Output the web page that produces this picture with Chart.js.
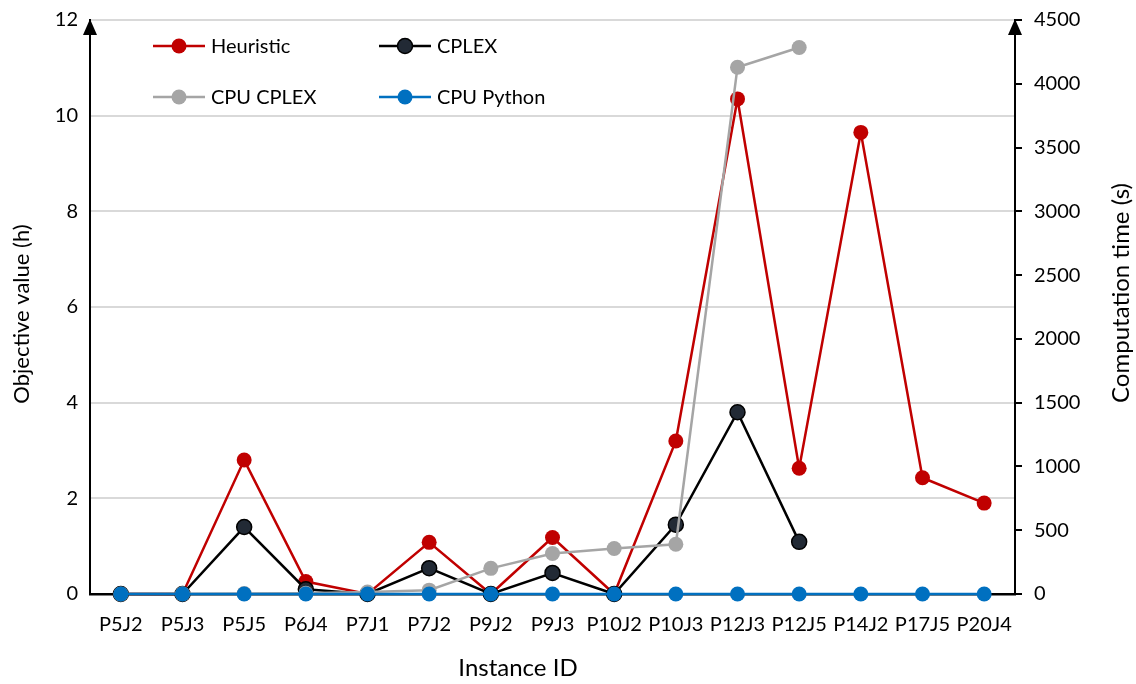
<!DOCTYPE html>
<html>
<head>
<meta charset="utf-8">
<script src="https://cdn.jsdelivr.net/npm/chart.js@4/dist/chart.umd.min.js"></script>
<style>
  body { margin: 0; background: #fff; }
  #wrap { width: 1136px; height: 684px; }
</style>
</head>
<body>
<div id="wrap"><canvas id="objChart" width="1136" height="684"></canvas></div>
<script>
// Instances on the x axis
const instances = ["P5J2", "P5J3", "P5J5", "P6J4", "P7J1", "P7J2", "P9J2", "P9J3",
  "P10J2", "P10J3", "P12J3", "P12J5", "P14J2", "P17J5", "P20J4"];

// Objective values (h), left axis
const heuristic = [0, 0, 2.8, 0.26, 0, 1.08, 0, 1.18, 0, 3.2, 10.35, 2.63, 9.65, 2.43, 1.9];
const cplex = [0, 0, 1.4, 0.1, 0, 0.54, 0, 0.44, 0, 1.45, 3.8, 1.09, null, null, null];

// Computation time (s), right axis
const cpuCplex = [0, 1, 3, 5, 15, 30, 201, 318, 357, 390, 4130, 4284, null, null, null];
const cpuPython = [0, 0, 0, 0, 0, 0, 0, 0, 0, 0, 0, 0, 0, 0, 0];

const FONT = "Lato, 'Liberation Sans', sans-serif";

// Draws axis titles, the in-plot legend and the arrow heads
const decorPlugin = {
  id: "decor",
  afterDraw(chart) {
    const c = chart.ctx;
    const area = chart.chartArea;
    c.save();
    c.fillStyle = "#000";
    c.textAlign = "center";
    c.textBaseline = "middle";
    // left title
    c.font = "22px " + FONT;
    c.save();
    c.translate(22, 314);
    c.rotate(-Math.PI / 2);
    c.fillText("Objective value (h)", 0, 0);
    c.restore();
    // right title
    c.font = "24px " + FONT;
    c.save();
    c.translate(1121, 293);
    c.rotate(-Math.PI / 2);
    c.fillText("Computation time (s)", 0, 0);
    c.restore();
    c.fillText("Instance ID", 518, 668);

    // arrow heads on both y axes
    [area.left, area.right].forEach((x) => {
      c.beginPath();
      c.moveTo(x, area.top - 1);
      c.lineTo(x - 7, area.top + 15);
      c.lineTo(x + 7, area.top + 15);
      c.closePath();
      c.fill();
    });

    // legend, two columns
    const spots = [[153, 46], [379, 46], [153, 97], [379, 97]];
    c.font = "20px " + FONT;
    c.textAlign = "left";
    chart.data.datasets.forEach((ds, k) => {
      const [x, y] = spots[k];
      c.strokeStyle = ds.borderColor;
      c.lineWidth = 2.5;
      c.beginPath();
      c.moveTo(x, y);
      c.lineTo(x + 52, y);
      c.stroke();
      c.beginPath();
      c.arc(x + 26, y, 7.5, 0, Math.PI * 2);
      c.fillStyle = ds.pointBackgroundColor;
      c.fill();
      if (ds.pointBorderWidth) {
        c.lineWidth = 1.5;
        c.strokeStyle = ds.pointBorderColor;
        c.stroke();
      }
      c.fillStyle = "#000";
      c.fillText(ds.label, x + 58, y + 1);
    });
    c.restore();
  }
};

function lineSet(label, data, color, axis, order, pointFill, pointEdge) {
  return {
    label: label,
    data: data,
    yAxisID: axis,
    order: order,
    clip: false,
    borderColor: color,
    borderWidth: 2.5,
    pointRadius: 7.5,
    pointHoverRadius: 7.5,
    pointBackgroundColor: pointFill || color,
    pointBorderColor: pointEdge || pointFill || color,
    pointBorderWidth: pointEdge ? 1.5 : 0,
    tension: 0,
    spanGaps: false
  };
}

const tickFont = { family: FONT, size: 20, lineHeight: 1 };
const yTickFont = { family: FONT, size: 20, lineHeight: 0.8 };

const ctx = document.getElementById("objChart").getContext("2d");
const objChart = new Chart(ctx, {
  type: "line",
  data: {
    labels: instances,
    datasets: [
      lineSet("Heuristic", heuristic, "#c00000", "y", 4),
      lineSet("CPLEX", cplex, "#000000", "y", 3, "#222a35", "#000000"),
      lineSet("CPU CPLEX", cpuCplex, "#a5a5a5", "y1", 2),
      lineSet("CPU Python", cpuPython, "#0070c0", "y1", 1)
    ]
  },
  options: {
    responsive: false,
    animation: false,
    devicePixelRatio: 1,
    layout: { padding: { top: 18, right: 0, left: 0, bottom: 0 } },
    plugins: { legend: { display: false }, tooltip: { enabled: false } },
    scales: {
      x: {
        offset: true,
        grid: { display: false },
        border: { color: "#000", width: 2.5 },
        ticks: { color: "#000", font: tickFont, padding: 13, autoSkip: false, maxRotation: 0 },
        afterFit: (s) => { s.height = 90; }
      },
      y: {
        position: "left",
        min: 0,
        max: 12,
        ticks: { stepSize: 2, color: "#000", font: yTickFont, padding: 12 },
        grid: {
          color: (g) => (g.tick && g.tick.value === 0 ? "rgba(0,0,0,0)" : "#d9d9d9"),
          lineWidth: 2,
          drawTicks: false
        },
        border: { color: "#000", width: 2 },
        afterFit: (s) => { s.width = 90; }
      },
      y1: {
        position: "right",
        min: 0,
        max: 4500,
        ticks: { stepSize: 500, color: "#000", font: yTickFont, padding: 12, callback: (v) => String(v) },
        grid: { drawOnChartArea: false, color: "#000", lineWidth: 2, tickLength: 7 },
        border: { color: "#000", width: 2 },
        afterFit: (s) => { s.width = 121; }
      }
    }
  },
  plugins: [decorPlugin]
});
</script>
</body>
</html>
